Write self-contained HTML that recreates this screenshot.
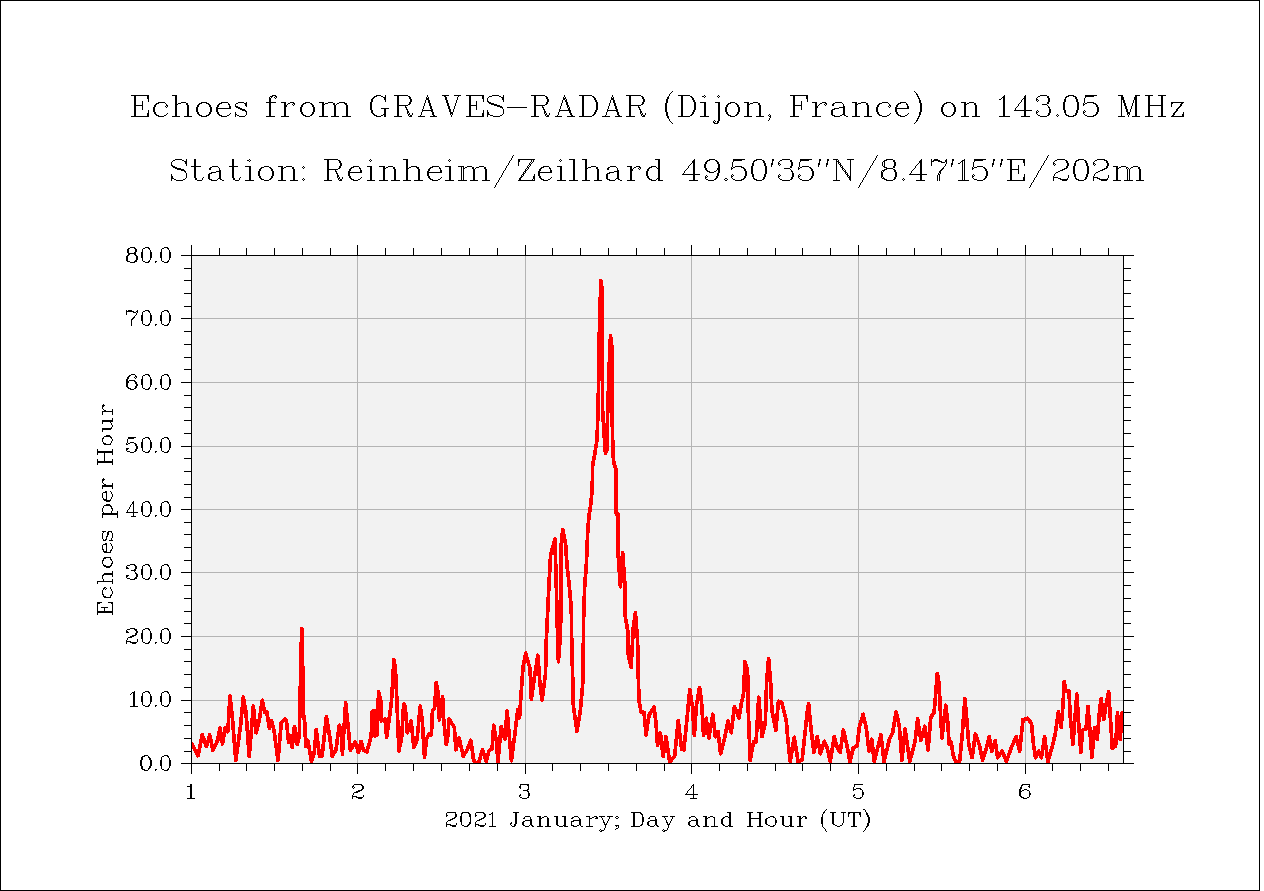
<!DOCTYPE html>
<html><head><meta charset="utf-8"><style>html,body{margin:0;padding:0;background:#fff;width:1264px;height:891px;overflow:hidden}svg{display:block}</style></head>
<body><svg width="1264" height="891" viewBox="0 0 1264 891" shape-rendering="crispEdges"><rect x="0" y="0" width="1264" height="891" fill="#fff"/><path d="M0 0h1260v891h-1260zM1 1v889h1258v-889z" fill="#000" fill-rule="evenodd"/><rect x="192" y="256" width="931" height="507" fill="#f2f2f2"/><path d="M357 256h1V763h-1zM525 256h1V763h-1zM691 256h1V763h-1zM858 256h1V763h-1zM1025 256h1V763h-1zM192 700H1123v1H192zM192 636H1123v1H192zM192 572H1123v1H192zM192 509H1123v1H192zM192 446H1123v1H192zM192 382H1123v1H192zM192 318H1123v1H192z" fill="#b4b4b4"/><path d="M191 255H1124V764H191z M192 256V763H1123V256zM191 764h1v10h-1z M191 245h1v10h-1zM219 764h1v7h-1z M219 248h1v7h-1zM246 764h1v7h-1z M246 248h1v7h-1zM274 764h1v7h-1z M274 248h1v7h-1zM302 764h1v7h-1z M302 248h1v7h-1zM330 764h1v7h-1z M330 248h1v7h-1zM357 764h1v10h-1z M357 245h1v10h-1zM385 764h1v7h-1z M385 248h1v7h-1zM413 764h1v7h-1z M413 248h1v7h-1zM441 764h1v7h-1z M441 248h1v7h-1zM469 764h1v7h-1z M469 248h1v7h-1zM497 764h1v7h-1z M497 248h1v7h-1zM525 764h1v10h-1z M525 245h1v10h-1zM552 764h1v7h-1z M552 248h1v7h-1zM580 764h1v7h-1z M580 248h1v7h-1zM608 764h1v7h-1z M608 248h1v7h-1zM636 764h1v7h-1z M636 248h1v7h-1zM664 764h1v7h-1z M664 248h1v7h-1zM691 764h1v10h-1z M691 245h1v10h-1zM719 764h1v7h-1z M719 248h1v7h-1zM747 764h1v7h-1z M747 248h1v7h-1zM775 764h1v7h-1z M775 248h1v7h-1zM802 764h1v7h-1z M802 248h1v7h-1zM830 764h1v7h-1z M830 248h1v7h-1zM858 764h1v10h-1z M858 245h1v10h-1zM886 764h1v7h-1z M886 248h1v7h-1zM914 764h1v7h-1z M914 248h1v7h-1zM941 764h1v7h-1z M941 248h1v7h-1zM969 764h1v7h-1z M969 248h1v7h-1zM997 764h1v7h-1z M997 248h1v7h-1zM1025 764h1v10h-1z M1025 245h1v10h-1zM1052 764h1v7h-1z M1052 248h1v7h-1zM1080 764h1v7h-1z M1080 248h1v7h-1zM1108 764h1v7h-1z M1108 248h1v7h-1zM181 255h10v1h-10z M1124 255h10v1h-10zM184 268h7v1h-7z M1124 268h7v1h-7zM184 280h7v1h-7z M1124 280h7v1h-7zM184 293h7v1h-7z M1124 293h7v1h-7zM184 306h7v1h-7z M1124 306h7v1h-7zM181 318h10v1h-10z M1124 318h10v1h-10zM184 331h7v1h-7z M1124 331h7v1h-7zM184 344h7v1h-7z M1124 344h7v1h-7zM184 357h7v1h-7z M1124 357h7v1h-7zM184 369h7v1h-7z M1124 369h7v1h-7zM181 382h10v1h-10z M1124 382h10v1h-10zM184 395h7v1h-7z M1124 395h7v1h-7zM184 407h7v1h-7z M1124 407h7v1h-7zM184 420h7v1h-7z M1124 420h7v1h-7zM184 433h7v1h-7z M1124 433h7v1h-7zM181 446h10v1h-10z M1124 446h10v1h-10zM184 458h7v1h-7z M1124 458h7v1h-7zM184 471h7v1h-7z M1124 471h7v1h-7zM184 484h7v1h-7z M1124 484h7v1h-7zM184 497h7v1h-7z M1124 497h7v1h-7zM181 509h10v1h-10z M1124 509h10v1h-10zM184 522h7v1h-7z M1124 522h7v1h-7zM184 534h7v1h-7z M1124 534h7v1h-7zM184 547h7v1h-7z M1124 547h7v1h-7zM184 560h7v1h-7z M1124 560h7v1h-7zM181 572h10v1h-10z M1124 572h10v1h-10zM184 585h7v1h-7z M1124 585h7v1h-7zM184 598h7v1h-7z M1124 598h7v1h-7zM184 611h7v1h-7z M1124 611h7v1h-7zM184 623h7v1h-7z M1124 623h7v1h-7zM181 636h10v1h-10z M1124 636h10v1h-10zM184 649h7v1h-7z M1124 649h7v1h-7zM184 661h7v1h-7z M1124 661h7v1h-7zM184 674h7v1h-7z M1124 674h7v1h-7zM184 687h7v1h-7z M1124 687h7v1h-7zM181 700h10v1h-10z M1124 700h10v1h-10zM184 712h7v1h-7z M1124 712h7v1h-7zM184 725h7v1h-7z M1124 725h7v1h-7zM184 738h7v1h-7z M1124 738h7v1h-7zM184 751h7v1h-7z M1124 751h7v1h-7zM181 763h10v1h-10z M1124 763h10v1h-10z" fill="#000" fill-rule="evenodd"/><path d="M672 91h1v1h-1zM914 91h1v1h-1zM671 92h1v1h-1zM915 92h1v1h-1zM670 93h1v1h-1zM916 93h1v1h-1zM916 94h2v1h-2zM131 95h18v1h-18zM172 95h5v1h-5zM272 95h4v1h-4zM376 95h5v1h-5zM394 95h14v1h-14zM442 95h7v1h-7zM454 95h7v1h-7zM466 95h18v1h-18zM492 95h7v1h-7zM531 95h14v1h-14zM579 95h13v1h-13zM626 95h15v1h-15zM669 94h1v2h-1zM678 95h12v1h-12zM704 95h1v1h-1zM718 95h1v1h-1zM790 95h18v1h-18zM917 95h1v1h-1zM1004 95h1v1h-1zM1025 95h1v1h-1zM1040 95h7v1h-7zM1068 95h6v1h-6zM1085 95h12v1h-12zM1118 95h5v1h-5zM1135 95h5v1h-5zM1145 95h8v1h-8zM1158 95h8v1h-8zM270 96h3v1h-3zM275 96h2v1h-2zM374 96h3v1h-3zM381 96h2v1h-2zM385 95h1v2h-1zM408 96h2v1h-2zM427 95h1v2h-1zM444 96h2v1h-2zM458 96h1v1h-1zM489 96h3v1h-3zM499 96h2v1h-2zM503 95h1v2h-1zM545 96h2v1h-2zM564 95h1v2h-1zM592 96h2v1h-2zM612 95h1v2h-1zM641 96h2v1h-2zM668 96h1v1h-1zM690 96h2v1h-2zM702 96h2v1h-2zM705 96h1v1h-1zM717 96h1v1h-1zM719 96h1v1h-1zM917 96h2v1h-2zM1003 96h2v1h-2zM1038 96h2v1h-2zM1066 96h3v1h-3zM1073 96h3v1h-3zM1085 96h9v1h-9zM1121 96h2v1h-2zM1135 96h2v1h-2zM269 97h1v1h-1zM271 97h1v1h-1zM274 97h1v1h-1zM276 97h1v1h-1zM373 97h2v1h-2zM383 97h3v1h-3zM426 97h1v1h-1zM428 97h1v1h-1zM488 97h1v1h-1zM501 97h3v1h-3zM563 97h1v1h-1zM565 97h1v1h-1zM593 97h2v1h-2zM611 97h1v1h-1zM613 97h1v1h-1zM691 97h2v1h-2zM704 97h1v1h-1zM718 97h1v1h-1zM918 97h1v1h-1zM1002 97h3v1h-3zM1024 96h2v2h-2zM1037 97h1v1h-1zM1047 96h2v2h-2zM1065 97h2v1h-2zM1085 97h1v1h-1zM147 96h2v3h-2zM275 98h1v1h-1zM372 98h2v1h-2zM409 97h2v2h-2zM482 96h2v3h-2zM546 97h2v2h-2zM563 98h3v1h-3zM642 97h2v2h-2zM667 97h2v2h-2zM806 96h2v3h-2zM918 98h2v1h-2zM1001 98h1v1h-1zM1023 98h3v1h-3zM1036 98h1v1h-1zM1065 98h1v1h-1zM1075 97h2v2h-2zM384 98h2v2h-2zM426 98h3v2h-3zM445 97h2v3h-2zM457 97h1v3h-1zM502 98h2v2h-2zM563 99h2v1h-2zM566 99h1v1h-1zM594 98h2v2h-2zM611 98h3v2h-3zM692 98h2v2h-2zM919 99h1v1h-1zM999 99h2v1h-2zM1022 99h1v1h-1zM1036 99h2v1h-2zM1121 97h3v3h-3zM1134 97h3v3h-3zM487 98h1v3h-1zM1036 100h1v1h-1zM1038 100h1v1h-1zM148 99h1v3h-1zM269 98h2v4h-2zM371 99h2v3h-2zM385 100h1v2h-1zM410 99h2v3h-2zM483 99h1v3h-1zM487 101h2v1h-2zM503 100h1v2h-1zM547 99h2v3h-2zM565 100h2v2h-2zM595 100h2v2h-2zM643 99h2v3h-2zM693 100h2v2h-2zM807 99h1v3h-1zM1021 100h1v2h-1zM1037 101h1v1h-1zM1048 98h2v4h-2zM1064 99h2v3h-2zM1076 99h2v3h-2zM158 102h7v1h-7zM181 102h5v1h-5zM201 102h6v1h-6zM221 102h7v1h-7zM238 102h6v1h-6zM246 102h1v1h-1zM266 102h10v1h-10zM281 102h5v1h-5zM290 102h4v1h-4zM305 102h5v1h-5zM319 102h5v1h-5zM328 102h5v1h-5zM339 102h6v1h-6zM425 100h1v3h-1zM428 100h2v3h-2zM446 100h2v3h-2zM456 100h1v3h-1zM488 102h3v1h-3zM562 100h1v3h-1zM610 100h1v3h-1zM613 100h2v3h-2zM666 99h2v4h-2zM700 102h6v1h-6zM715 102h5v1h-5zM730 102h5v1h-5zM744 102h5v1h-5zM753 102h5v1h-5zM812 102h5v1h-5zM822 102h4v1h-4zM835 102h7v1h-7zM852 102h5v1h-5zM861 102h5v1h-5zM882 102h6v1h-6zM900 102h6v1h-6zM919 100h2v3h-2zM946 102h5v1h-5zM961 102h5v1h-5zM969 102h5v1h-5zM1020 102h1v1h-1zM1084 98h1v5h-1zM1087 102h7v1h-7zM1123 100h2v3h-2zM1133 100h1v3h-1zM1171 102h13v1h-13zM156 103h3v1h-3zM165 103h1v1h-1zM175 96h2v8h-2zM178 103h3v1h-3zM199 103h3v1h-3zM206 103h3v1h-3zM219 103h3v1h-3zM228 103h1v1h-1zM236 103h2v1h-2zM244 103h3v1h-3zM288 103h2v1h-2zM293 103h2v1h-2zM303 103h3v1h-3zM310 103h2v1h-2zM322 103h2v1h-2zM325 103h3v1h-3zM337 103h2v1h-2zM344 103h3v1h-3zM409 102h2v2h-2zM489 103h5v1h-5zM546 102h2v2h-2zM642 102h2v2h-2zM728 103h3v1h-3zM735 103h2v1h-2zM747 103h2v1h-2zM750 103h3v1h-3zM820 103h2v1h-2zM825 103h2v1h-2zM833 103h2v1h-2zM842 103h1v1h-1zM855 103h2v1h-2zM858 103h3v1h-3zM879 103h3v1h-3zM888 103h1v1h-1zM898 103h3v1h-3zM906 103h1v1h-1zM944 103h3v1h-3zM951 103h2v1h-2zM964 103h2v1h-2zM967 103h2v1h-2zM1019 103h1v1h-1zM1047 102h2v2h-2zM1083 103h1v1h-1zM1085 103h2v1h-2zM1093 103h3v1h-3zM1171 103h2v1h-2zM1181 103h2v1h-2zM134 96h2v9h-2zM142 101h1v4h-1zM155 104h2v1h-2zM166 104h1v1h-1zM175 104h3v1h-3zM186 103h2v2h-2zM198 104h2v1h-2zM208 104h2v1h-2zM218 104h2v1h-2zM228 104h2v1h-2zM284 103h2v2h-2zM287 104h1v1h-1zM292 104h1v1h-1zM294 104h1v1h-1zM302 104h2v1h-2zM311 104h2v1h-2zM322 104h3v1h-3zM333 103h2v2h-2zM336 104h1v1h-1zM345 104h2v1h-2zM397 96h2v9h-2zM408 104h2v1h-2zM469 96h2v9h-2zM476 101h1v4h-1zM491 104h6v1h-6zM534 96h2v9h-2zM545 104h2v1h-2zM566 102h2v3h-2zM629 96h2v9h-2zM641 104h2v1h-2zM727 104h2v1h-2zM736 104h2v1h-2zM747 104h3v1h-3zM758 103h2v2h-2zM793 96h2v9h-2zM801 101h1v4h-1zM819 104h1v1h-1zM824 104h1v1h-1zM826 104h1v1h-1zM855 104h3v1h-3zM866 103h2v2h-2zM878 104h2v1h-2zM889 104h1v1h-1zM897 104h2v1h-2zM906 104h2v1h-2zM943 104h2v1h-2zM952 104h2v1h-2zM964 104h3v1h-3zM974 103h2v2h-2zM1042 104h5v1h-5zM1083 104h2v1h-2zM1095 104h2v1h-2zM1148 96h2v9h-2zM1161 96h2v9h-2zM134 105h9v1h-9zM166 105h2v1h-2zM229 105h1v1h-1zM235 104h1v2h-1zM245 104h2v2h-2zM293 105h1v1h-1zM397 105h11v1h-11zM424 103h1v3h-1zM429 103h2v3h-2zM447 103h2v3h-2zM455 103h1v3h-1zM469 105h8v1h-8zM494 105h6v1h-6zM534 105h11v1h-11zM561 103h1v3h-1zM609 103h1v3h-1zM614 103h2v3h-2zM629 105h12v1h-12zM793 105h9v1h-9zM815 103h2v3h-2zM818 105h1v1h-1zM825 105h1v1h-1zM832 104h2v2h-2zM843 104h1v2h-1zM889 105h2v1h-2zM907 105h1v1h-1zM1018 104h1v2h-1zM1047 105h1v1h-1zM1083 105h1v1h-1zM1124 103h2v3h-2zM1132 103h1v3h-1zM1148 105h15v1h-15zM1180 104h2v2h-2zM154 105h2v2h-2zM165 106h1v1h-1zM167 106h1v1h-1zM197 105h2v2h-2zM209 105h2v2h-2zM217 105h2v2h-2zM235 106h3v1h-3zM246 106h1v1h-1zM284 105h3v2h-3zM301 105h2v2h-2zM312 105h2v2h-2zM405 106h1v1h-1zM497 106h5v1h-5zM542 106h1v1h-1zM567 105h2v2h-2zM638 106h1v1h-1zM726 105h2v2h-2zM737 105h2v2h-2zM843 106h2v1h-2zM877 105h2v2h-2zM888 106h1v1h-1zM890 106h1v1h-1zM896 105h2v2h-2zM942 105h2v2h-2zM953 105h2v2h-2zM1017 106h1v1h-1zM1048 106h1v1h-1zM1096 105h2v2h-2zM1171 104h1v3h-1zM1179 106h2v1h-2zM166 107h1v1h-1zM216 107h2v1h-2zM229 106h2v2h-2zM236 107h4v1h-4zM405 107h2v1h-2zM500 107h3v1h-3zM507 107h20v1h-20zM542 107h2v1h-2zM567 107h1v1h-1zM569 107h1v1h-1zM638 107h2v1h-2zM815 106h3v2h-3zM839 107h6v1h-6zM889 107h1v1h-1zM895 107h2v1h-2zM907 106h2v2h-2zM1016 107h1v1h-1zM1048 107h2v1h-2zM1178 107h2v1h-2zM216 108h15v1h-15zM238 108h4v1h-4zM381 108h8v1h-8zM406 108h1v1h-1zM423 106h1v3h-1zM430 106h2v3h-2zM448 106h2v3h-2zM454 106h1v3h-1zM502 108h1v1h-1zM543 108h1v1h-1zM560 106h1v3h-1zM608 106h1v3h-1zM615 106h2v3h-2zM639 108h1v1h-1zM834 108h5v1h-5zM895 108h14v1h-14zM1049 108h1v1h-1zM1125 106h2v3h-2zM1131 106h1v3h-1zM1177 108h2v1h-2zM142 106h1v4h-1zM240 109h5v1h-5zM370 102h2v8h-2zM406 109h2v1h-2zM422 109h1v1h-1zM431 109h2v1h-2zM476 106h1v4h-1zM543 109h2v1h-2zM559 109h1v1h-1zM568 108h2v2h-2zM596 102h2v8h-2zM607 109h1v1h-1zM616 109h2v1h-2zM639 109h2v1h-2zM694 102h2v8h-2zM801 106h1v4h-1zM832 109h3v1h-3zM1015 108h1v2h-1zM1024 99h2v11h-2zM1063 102h2v8h-2zM1077 102h2v8h-2zM242 110h4v1h-4zM407 110h1v1h-1zM422 110h11v1h-11zM544 110h1v1h-1zM559 110h12v1h-12zM607 110h11v1h-11zM640 110h1v1h-1zM1014 110h18v1h-18zM1037 110h1v1h-1zM1084 110h1v1h-1zM1176 109h2v2h-2zM153 107h2v5h-2zM196 107h2v5h-2zM210 107h2v5h-2zM216 109h2v3h-2zM245 111h2v1h-2zM300 107h2v5h-2zM313 107h2v5h-2zM422 111h1v1h-1zM431 111h2v1h-2zM449 109h2v3h-2zM453 109h1v3h-1zM487 110h1v2h-1zM559 111h1v1h-1zM595 110h2v2h-2zM607 111h1v1h-1zM616 111h2v1h-2zM665 103h2v9h-2zM693 110h2v2h-2zM725 107h2v5h-2zM738 107h2v5h-2zM876 107h2v5h-2zM895 109h2v3h-2zM920 103h2v9h-2zM941 107h2v5h-2zM954 107h2v5h-2zM1036 111h1v1h-1zM1038 111h1v1h-1zM1083 111h1v1h-1zM1085 111h1v1h-1zM1097 107h2v5h-2zM1126 109h2v3h-2zM1130 109h1v3h-1zM1175 111h2v1h-2zM148 110h1v3h-1zM371 110h2v3h-2zM407 111h2v2h-2zM483 110h1v3h-1zM544 111h2v2h-2zM569 111h2v2h-2zM640 111h2v2h-2zM1036 112h2v1h-2zM1049 109h2v4h-2zM1064 110h2v3h-2zM1076 110h2v3h-2zM1083 112h2v1h-2zM1174 112h2v1h-2zM154 112h2v2h-2zM167 113h1v1h-1zM197 112h2v2h-2zM209 112h2v2h-2zM217 112h2v2h-2zM230 113h1v1h-1zM235 112h1v2h-1zM301 112h2v2h-2zM312 112h2v2h-2zM372 113h2v1h-2zM384 109h2v5h-2zM407 113h1v1h-1zM409 113h1v1h-1zM450 112h3v2h-3zM487 112h2v2h-2zM503 109h1v5h-1zM544 113h1v1h-1zM546 113h1v1h-1zM594 112h2v2h-2zM640 113h1v1h-1zM642 113h1v1h-1zM692 112h2v2h-2zM726 112h2v2h-2zM737 112h2v2h-2zM843 108h2v6h-2zM877 112h2v2h-2zM890 113h1v1h-1zM896 112h2v2h-2zM908 113h1v1h-1zM942 112h2v2h-2zM953 112h2v2h-2zM1036 113h1v1h-1zM1065 113h1v1h-1zM1083 113h1v1h-1zM1096 112h2v2h-2zM1127 112h3v2h-3zM1183 112h1v2h-1zM155 114h2v1h-2zM166 114h1v1h-1zM198 114h2v1h-2zM208 114h2v1h-2zM218 114h2v1h-2zM229 114h1v1h-1zM235 114h2v1h-2zM246 112h1v3h-1zM302 114h2v1h-2zM311 114h2v1h-2zM373 114h2v1h-2zM383 114h3v1h-3zM408 114h2v1h-2zM412 113h1v2h-1zM421 112h1v3h-1zM432 112h2v3h-2zM450 114h1v1h-1zM452 114h1v1h-1zM487 114h3v1h-3zM502 114h1v1h-1zM545 114h2v1h-2zM549 113h1v2h-1zM558 112h1v3h-1zM570 113h2v2h-2zM593 114h2v1h-2zM606 112h1v3h-1zM617 112h2v3h-2zM641 114h2v1h-2zM645 113h1v2h-1zM691 114h2v1h-2zM727 114h2v1h-2zM736 114h2v1h-2zM769 114h1v1h-1zM831 110h2v5h-2zM842 114h3v1h-3zM878 114h2v1h-2zM889 114h1v1h-1zM897 114h2v1h-2zM907 114h1v1h-1zM919 112h2v3h-2zM943 114h2v1h-2zM952 114h2v1h-2zM1037 114h1v1h-1zM1048 113h2v2h-2zM1057 114h1v1h-1zM1065 114h2v1h-2zM1075 113h2v2h-2zM1084 114h1v1h-1zM1095 114h2v1h-2zM1127 114h1v1h-1zM1129 114h1v1h-1zM1173 113h2v2h-2zM134 106h2v10h-2zM147 113h2v3h-2zM156 115h3v1h-3zM164 115h2v1h-2zM175 105h2v11h-2zM187 105h2v11h-2zM199 115h3v1h-3zM206 115h3v1h-3zM219 115h3v1h-3zM227 115h2v1h-2zM237 115h2v1h-2zM245 115h1v1h-1zM269 103h2v13h-2zM284 107h2v9h-2zM303 115h3v1h-3zM310 115h2v1h-2zM322 105h2v11h-2zM334 105h2v11h-2zM346 105h2v11h-2zM374 115h3v1h-3zM381 115h2v1h-2zM397 106h2v10h-2zM408 115h1v1h-1zM410 115h2v1h-2zM420 115h1v1h-1zM433 115h2v1h-2zM469 106h2v10h-2zM482 113h2v3h-2zM490 115h3v1h-3zM500 115h2v1h-2zM534 106h2v10h-2zM545 115h1v1h-1zM547 115h2v1h-2zM557 115h1v1h-1zM571 115h2v1h-2zM582 96h2v20h-2zM592 115h2v1h-2zM605 115h1v1h-1zM618 115h2v1h-2zM629 106h2v10h-2zM641 115h1v1h-1zM643 115h2v1h-2zM666 112h2v4h-2zM681 96h2v20h-2zM690 115h2v1h-2zM704 103h2v13h-2zM728 115h3v1h-3zM735 115h2v1h-2zM747 105h2v11h-2zM759 105h2v11h-2zM768 115h1v1h-1zM770 115h1v1h-1zM793 106h2v10h-2zM815 108h2v8h-2zM832 115h3v1h-3zM840 115h2v1h-2zM844 115h2v1h-2zM855 105h2v11h-2zM867 105h2v11h-2zM879 115h3v1h-3zM887 115h2v1h-2zM898 115h3v1h-3zM905 115h2v1h-2zM919 115h1v1h-1zM944 115h3v1h-3zM951 115h2v1h-2zM964 105h2v11h-2zM975 105h2v11h-2zM1003 98h2v18h-2zM1024 111h2v5h-2zM1038 115h2v1h-2zM1047 115h2v1h-2zM1056 115h1v1h-1zM1058 115h1v1h-1zM1066 115h3v1h-3zM1073 115h3v1h-3zM1085 115h2v1h-2zM1093 115h3v1h-3zM1121 100h1v16h-1zM1135 100h2v16h-2zM1148 106h2v10h-2zM1161 106h2v10h-2zM1172 115h2v1h-2zM1182 114h2v2h-2zM131 116h18v1h-18zM158 116h6v1h-6zM172 116h8v1h-8zM184 116h8v1h-8zM201 116h6v1h-6zM221 116h6v1h-6zM235 115h1v2h-1zM239 116h6v1h-6zM266 116h9v1h-9zM281 116h8v1h-8zM305 116h5v1h-5zM319 116h9v1h-9zM331 116h8v1h-8zM342 116h9v1h-9zM376 116h5v1h-5zM384 115h2v2h-2zM394 116h8v1h-8zM409 116h3v1h-3zM418 116h7v1h-7zM430 116h7v1h-7zM451 115h1v2h-1zM466 116h18v1h-18zM487 115h1v2h-1zM493 116h7v1h-7zM531 116h8v1h-8zM546 116h3v1h-3zM555 116h7v1h-7zM567 116h8v1h-8zM579 116h13v1h-13zM602 116h8v1h-8zM615 116h7v1h-7zM626 116h9v1h-9zM642 116h3v1h-3zM678 116h12v1h-12zM700 116h9v1h-9zM730 116h5v1h-5zM744 116h8v1h-8zM756 116h8v1h-8zM769 116h2v1h-2zM790 116h9v1h-9zM812 116h9v1h-9zM834 116h6v1h-6zM846 116h2v1h-2zM852 116h8v1h-8zM864 116h8v1h-8zM882 116h5v1h-5zM900 116h5v1h-5zM918 116h2v1h-2zM946 116h5v1h-5zM961 116h8v1h-8zM972 116h8v1h-8zM999 116h11v1h-11zM1021 116h9v1h-9zM1040 116h7v1h-7zM1057 116h1v1h-1zM1068 116h6v1h-6zM1087 116h7v1h-7zM1118 116h7v1h-7zM1128 115h1v2h-1zM1132 116h8v1h-8zM1145 116h8v1h-8zM1158 116h8v1h-8zM1171 116h13v1h-13zM667 116h2v2h-2zM770 117h1v1h-1zM918 117h1v1h-1zM668 118h1v1h-1zM917 118h2v1h-2zM769 118h1v2h-1zM917 119h1v1h-1zM669 119h1v2h-1zM714 120h1v1h-1zM718 103h2v18h-2zM768 120h1v1h-1zM916 120h2v1h-2zM670 121h1v1h-1zM713 121h1v1h-1zM715 121h1v1h-1zM916 121h1v1h-1zM671 122h1v1h-1zM713 122h2v1h-2zM717 121h2v2h-2zM915 122h1v1h-1zM672 123h1v1h-1zM714 123h4v1h-4zM914 123h1v1h-1zM513 155h1v1h-1zM877 155h1v1h-1zM1048 155h1v1h-1zM512 156h1v2h-1zM876 156h1v2h-1zM1047 156h1v2h-1zM175 159h7v1h-7zM249 159h1v1h-1zM324 159h14v1h-14zM370 159h1v1h-1zM403 159h5v1h-5zM449 159h1v1h-1zM511 158h1v2h-1zM518 159h17v1h-17zM560 159h1v1h-1zM569 159h6v1h-6zM582 159h5v1h-5zM655 159h5v1h-5zM694 159h1v1h-1zM709 159h6v1h-6zM733 159h12v1h-12zM756 159h6v1h-6zM782 159h8v1h-8zM800 159h12v1h-12zM833 159h5v1h-5zM847 159h7v1h-7zM875 158h1v2h-1zM886 159h7v1h-7zM921 159h1v1h-1zM934 159h4v1h-4zM946 159h1v1h-1zM964 159h1v1h-1zM974 159h12v1h-12zM1007 159h18v1h-18zM1046 158h1v2h-1zM1057 159h8v1h-8zM1078 159h6v1h-6zM1097 159h8v1h-8zM173 160h2v1h-2zM182 160h2v1h-2zM186 159h1v2h-1zM247 160h2v1h-2zM250 160h1v1h-1zM338 160h2v1h-2zM369 160h1v1h-1zM371 160h1v1h-1zM448 160h1v1h-1zM450 160h1v1h-1zM510 160h1v1h-1zM559 160h1v1h-1zM561 160h1v1h-1zM693 160h2v1h-2zM707 160h3v1h-3zM715 160h2v1h-2zM733 160h9v1h-9zM754 160h3v1h-3zM762 160h2v1h-2zM772 159h2v2h-2zM780 160h2v1h-2zM800 160h9v1h-9zM819 159h2v2h-2zM827 159h2v2h-2zM836 160h1v1h-1zM838 160h1v1h-1zM874 160h1v1h-1zM884 160h3v1h-3zM920 160h2v1h-2zM931 159h1v2h-1zM933 160h7v1h-7zM952 159h2v2h-2zM962 160h3v1h-3zM974 160h9v1h-9zM993 159h2v2h-2zM1001 159h2v2h-2zM1045 160h1v1h-1zM1055 160h2v1h-2zM1065 160h2v1h-2zM1076 160h3v1h-3zM1084 160h2v1h-2zM1095 160h2v1h-2zM1104 160h3v1h-3zM172 161h1v1h-1zM184 161h3v1h-3zM249 161h1v1h-1zM370 161h1v1h-1zM449 161h1v1h-1zM518 160h2v2h-2zM531 160h1v2h-1zM533 160h1v2h-1zM560 161h1v1h-1zM706 161h2v1h-2zM716 161h2v1h-2zM733 161h1v1h-1zM753 161h2v1h-2zM779 161h1v1h-1zM790 160h2v2h-2zM800 161h1v1h-1zM836 161h3v1h-3zM883 161h2v1h-2zM893 160h2v2h-2zM931 161h3v1h-3zM938 161h4v1h-4zM945 160h2v2h-2zM961 161h2v1h-2zM974 161h1v1h-1zM1054 161h1v1h-1zM1075 161h2v1h-2zM1094 161h1v1h-1zM339 161h2v2h-2zM509 161h1v2h-1zM530 162h1v1h-1zM532 162h1v1h-1zM692 161h3v2h-3zM753 162h1v1h-1zM763 161h2v2h-2zM772 161h1v2h-1zM778 162h1v1h-1zM819 161h1v2h-1zM827 161h1v2h-1zM838 162h2v1h-2zM873 161h1v2h-1zM919 161h3v2h-3zM941 162h4v1h-4zM952 161h1v2h-1zM960 162h1v1h-1zM993 161h1v2h-1zM1001 161h1v2h-1zM1023 160h2v3h-2zM1044 161h1v2h-1zM1053 162h1v1h-1zM1066 161h2v2h-2zM1075 162h1v1h-1zM1085 161h2v2h-2zM1093 162h1v1h-1zM1106 161h2v2h-2zM185 162h2v2h-2zM529 163h1v1h-1zM531 163h1v1h-1zM691 163h1v1h-1zM705 162h2v2h-2zM717 162h2v2h-2zM778 163h2v1h-2zM838 163h1v1h-1zM840 163h1v1h-1zM918 163h1v1h-1zM946 162h1v2h-1zM958 163h2v1h-2zM1053 163h2v1h-2zM1093 163h2v1h-2zM171 162h1v3h-1zM508 163h1v2h-1zM529 164h2v1h-2zM690 164h1v1h-1zM771 163h2v2h-2zM778 164h1v1h-1zM780 164h1v1h-1zM818 163h2v2h-2zM826 163h2v2h-2zM839 164h2v1h-2zM872 163h1v2h-1zM917 164h1v1h-1zM951 163h2v2h-2zM992 163h2v2h-2zM1000 163h2v2h-2zM1043 163h1v2h-1zM1053 164h1v1h-1zM1055 164h1v1h-1zM1093 164h1v1h-1zM1095 164h1v1h-1zM171 165h2v1h-2zM186 164h1v2h-1zM194 159h2v7h-2zM232 159h2v7h-2zM340 163h2v3h-2zM507 165h1v1h-1zM518 162h1v4h-1zM528 165h1v1h-1zM530 165h1v1h-1zM689 165h1v1h-1zM752 163h2v3h-2zM764 163h2v3h-2zM779 165h1v1h-1zM791 162h2v4h-2zM840 165h2v1h-2zM871 165h1v1h-1zM882 162h1v4h-1zM884 162h1v4h-1zM894 162h2v4h-2zM916 165h1v1h-1zM931 162h1v4h-1zM945 164h1v2h-1zM1024 163h1v3h-1zM1042 165h1v1h-1zM1054 165h1v1h-1zM1067 163h2v3h-2zM1074 163h2v3h-2zM1086 163h2v3h-2zM1094 165h1v1h-1zM1107 163h2v3h-2zM172 166h3v1h-3zM191 166h10v1h-10zM212 166h6v1h-6zM229 166h9v1h-9zM245 166h6v1h-6zM264 166h5v1h-5zM278 166h5v1h-5zM286 166h6v1h-6zM303 166h1v1h-1zM353 166h6v1h-6zM367 166h5v1h-5zM379 166h6v1h-6zM388 166h5v1h-5zM411 166h6v1h-6zM432 166h7v1h-7zM445 166h6v1h-6zM458 166h6v1h-6zM467 166h5v1h-5zM479 166h5v1h-5zM527 166h1v1h-1zM529 166h1v1h-1zM543 166h6v1h-6zM557 166h5v1h-5zM591 166h5v1h-5zM610 166h6v1h-6zM627 166h5v1h-5zM636 166h4v1h-4zM651 166h5v1h-5zM732 162h1v5h-1zM735 166h7v1h-7zM771 165h1v2h-1zM799 162h1v5h-1zM802 166h7v1h-7zM818 165h1v2h-1zM826 165h1v2h-1zM840 166h1v1h-1zM842 166h1v1h-1zM883 166h2v1h-2zM944 166h1v1h-1zM951 165h1v2h-1zM973 162h1v5h-1zM977 166h6v1h-6zM992 165h1v2h-1zM1000 165h1v2h-1zM1113 166h5v1h-5zM1121 166h5v1h-5zM1133 166h5v1h-5zM173 167h4v1h-4zM210 167h2v1h-2zM218 167h1v1h-1zM261 167h3v1h-3zM269 167h2v1h-2zM281 167h2v1h-2zM284 167h2v1h-2zM302 167h1v1h-1zM304 167h1v1h-1zM339 166h2v2h-2zM351 167h3v1h-3zM359 167h1v1h-1zM383 167h2v1h-2zM386 167h2v1h-2zM406 160h2v8h-2zM409 167h2v1h-2zM416 167h3v1h-3zM430 167h3v1h-3zM439 167h1v1h-1zM463 167h1v1h-1zM465 167h2v1h-2zM476 167h3v1h-3zM506 166h1v2h-1zM527 167h2v1h-2zM541 167h3v1h-3zM549 167h1v1h-1zM585 160h2v8h-2zM588 167h3v1h-3zM608 167h2v1h-2zM616 167h1v1h-1zM634 167h2v1h-2zM639 167h2v1h-2zM649 167h3v1h-3zM656 167h1v1h-1zM658 160h2v8h-2zM688 166h1v2h-1zM704 164h2v4h-2zM718 164h2v4h-2zM731 167h1v1h-1zM733 167h2v1h-2zM741 167h3v1h-3zM790 166h2v2h-2zM798 167h1v1h-1zM800 167h2v1h-2zM809 167h2v1h-2zM841 167h2v1h-2zM870 166h1v2h-1zM884 167h3v1h-3zM893 166h2v2h-2zM915 166h1v2h-1zM943 167h1v1h-1zM972 167h1v1h-1zM974 167h3v1h-3zM983 167h2v1h-2zM1041 166h1v2h-1zM1066 166h2v2h-2zM1106 166h2v2h-2zM1116 167h2v1h-2zM1119 167h2v1h-2zM1126 167h2v1h-2zM1131 167h2v1h-2zM175 168h6v1h-6zM260 168h2v1h-2zM270 168h2v1h-2zM281 168h3v1h-3zM292 167h2v2h-2zM303 168h1v1h-1zM327 160h2v9h-2zM338 168h2v1h-2zM350 168h2v1h-2zM359 168h2v1h-2zM383 168h3v1h-3zM393 167h2v2h-2zM406 168h3v1h-3zM417 168h2v1h-2zM429 168h2v1h-2zM439 168h2v1h-2zM463 168h2v1h-2zM472 167h2v2h-2zM475 168h1v1h-1zM484 167h2v2h-2zM526 168h1v1h-1zM528 168h1v1h-1zM540 168h2v1h-2zM549 168h2v1h-2zM585 168h3v1h-3zM596 167h2v2h-2zM630 167h2v2h-2zM633 168h1v1h-1zM638 168h1v1h-1zM640 168h1v1h-1zM648 168h2v1h-2zM657 168h3v1h-3zM687 168h1v1h-1zM731 168h2v1h-2zM743 168h2v1h-2zM784 168h6v1h-6zM798 168h2v1h-2zM810 168h2v1h-2zM842 168h2v1h-2zM886 168h7v1h-7zM914 168h1v1h-1zM942 168h2v1h-2zM972 168h2v1h-2zM984 168h2v1h-2zM1010 160h2v9h-2zM1018 165h1v4h-1zM1064 168h3v1h-3zM1104 168h3v1h-3zM1116 168h3v1h-3zM1126 168h1v1h-1zM1128 168h1v1h-1zM1130 168h1v1h-1zM1138 167h2v2h-2zM177 169h7v1h-7zM209 168h2v2h-2zM219 168h1v2h-1zM327 169h11v1h-11zM360 169h1v1h-1zM440 169h1v1h-1zM505 168h1v2h-1zM525 169h1v1h-1zM527 169h1v1h-1zM550 169h1v1h-1zM607 168h2v2h-2zM617 168h1v2h-1zM639 169h1v1h-1zM686 169h1v1h-1zM705 168h2v2h-2zM717 168h3v2h-3zM731 169h1v1h-1zM790 169h1v1h-1zM798 169h1v1h-1zM842 169h1v1h-1zM844 169h1v1h-1zM869 168h1v2h-1zM884 169h3v1h-3zM893 169h2v1h-2zM913 169h1v1h-1zM941 169h2v1h-2zM972 169h1v1h-1zM1010 169h9v1h-9zM1040 168h1v2h-1zM1062 169h3v1h-3zM1102 169h3v1h-3zM181 170h4v1h-4zM219 170h2v1h-2zM259 169h2v2h-2zM271 169h2v2h-2zM335 170h1v1h-1zM349 169h2v2h-2zM428 169h2v2h-2zM504 170h1v1h-1zM525 170h2v1h-2zM539 169h2v2h-2zM617 170h2v1h-2zM630 169h3v2h-3zM647 169h2v2h-2zM685 170h1v1h-1zM706 170h2v1h-2zM716 170h1v1h-1zM744 169h2v2h-2zM791 170h1v1h-1zM811 169h2v2h-2zM843 170h1v1h-1zM845 170h1v1h-1zM868 170h1v1h-1zM882 170h3v1h-3zM912 170h1v1h-1zM940 170h2v1h-2zM985 169h2v2h-2zM1039 170h1v1h-1zM1060 170h3v1h-3zM1100 170h3v1h-3zM184 171h2v1h-2zM216 171h5v1h-5zM335 171h2v1h-2zM348 171h2v1h-2zM360 170h2v2h-2zM427 171h2v1h-2zM440 170h2v2h-2zM524 171h2v1h-2zM538 171h2v1h-2zM550 170h2v2h-2zM614 171h5v1h-5zM707 171h3v1h-3zM714 171h2v1h-2zM791 171h2v1h-2zM844 171h2v1h-2zM881 171h1v1h-1zM883 171h1v1h-1zM894 170h2v2h-2zM1058 171h2v1h-2zM1098 171h2v1h-2zM185 172h1v1h-1zM211 172h5v1h-5zM336 172h1v1h-1zM348 172h14v1h-14zM427 172h15v1h-15zM503 171h1v2h-1zM523 172h1v1h-1zM525 172h1v1h-1zM538 172h14v1h-14zM609 172h5v1h-5zM684 171h1v2h-1zM709 172h5v1h-5zM718 170h2v3h-2zM792 172h1v1h-1zM845 172h2v1h-2zM867 171h1v2h-1zM911 171h1v2h-1zM939 171h2v2h-2zM1038 171h1v2h-1zM1056 172h2v1h-2zM1096 172h2v1h-2zM209 173h3v1h-3zM336 173h2v1h-2zM523 173h2v1h-2zM607 173h3v1h-3zM683 173h1v1h-1zM693 163h2v11h-2zM751 166h2v8h-2zM765 166h2v8h-2zM845 173h1v1h-1zM847 173h1v1h-1zM910 173h1v1h-1zM920 163h2v11h-2zM938 173h1v1h-1zM940 173h1v1h-1zM1018 170h1v4h-1zM1055 173h1v1h-1zM1073 166h2v8h-2zM1087 166h2v8h-2zM1095 173h1v1h-1zM337 174h1v1h-1zM502 173h1v2h-1zM522 174h2v1h-2zM682 174h18v1h-18zM732 174h1v1h-1zM779 174h1v1h-1zM799 174h1v1h-1zM846 174h2v1h-2zM866 173h1v2h-1zM909 174h18v1h-18zM938 174h2v1h-2zM973 174h1v1h-1zM1037 173h1v2h-1zM171 174h1v2h-1zM258 171h2v5h-2zM272 171h2v5h-2zM348 173h2v3h-2zM427 173h2v3h-2zM521 175h1v1h-1zM523 175h1v1h-1zM534 174h1v2h-1zM538 173h2v3h-2zM646 171h2v5h-2zM706 175h1v1h-1zM717 173h2v3h-2zM731 175h1v1h-1zM733 175h1v1h-1zM745 171h2v5h-2zM778 175h1v1h-1zM780 175h1v1h-1zM798 175h1v1h-1zM800 175h1v1h-1zM812 171h2v5h-2zM847 175h2v1h-2zM850 160h1v16h-1zM972 175h1v1h-1zM974 175h1v1h-1zM986 171h2v5h-2zM1054 174h1v2h-1zM1094 174h1v2h-1zM337 175h2v2h-2zM501 175h1v2h-1zM521 176h2v1h-2zM705 176h1v1h-1zM707 176h1v1h-1zM731 176h2v1h-2zM752 174h2v3h-2zM764 174h2v3h-2zM778 176h2v1h-2zM792 173h2v4h-2zM798 176h2v1h-2zM847 176h1v1h-1zM849 176h2v1h-2zM865 175h1v2h-1zM881 172h2v5h-2zM895 172h2v5h-2zM972 176h2v1h-2zM1024 174h1v3h-1zM1036 175h1v2h-1zM1053 176h1v1h-1zM1074 174h2v3h-2zM1086 174h2v3h-2zM1093 176h1v1h-1zM171 176h2v2h-2zM186 173h1v5h-1zM194 167h2v11h-2zM203 177h1v1h-1zM219 172h2v6h-2zM232 167h2v11h-2zM240 177h1v1h-1zM259 176h2v2h-2zM271 176h2v2h-2zM337 177h1v1h-1zM339 177h1v1h-1zM349 176h2v2h-2zM361 177h1v1h-1zM428 176h2v2h-2zM441 177h1v1h-1zM500 177h1v1h-1zM520 177h2v1h-2zM539 176h2v2h-2zM551 177h1v1h-1zM617 172h2v6h-2zM647 176h2v2h-2zM658 169h2v9h-2zM705 177h2v1h-2zM716 176h2v2h-2zM731 177h1v1h-1zM744 176h2v2h-2zM753 177h1v1h-1zM778 177h1v1h-1zM798 177h1v1h-1zM811 176h2v2h-2zM848 177h3v1h-3zM864 177h1v1h-1zM881 177h1v1h-1zM883 177h1v1h-1zM972 177h1v1h-1zM985 176h2v2h-2zM1035 177h1v1h-1zM1053 177h5v1h-5zM1068 175h1v3h-1zM1075 177h1v1h-1zM1093 177h5v1h-5zM1108 175h1v3h-1zM171 178h3v1h-3zM185 178h1v1h-1zM208 174h2v5h-2zM218 178h3v1h-3zM260 178h2v1h-2zM270 178h2v1h-2zM303 178h1v1h-1zM338 178h2v1h-2zM342 177h1v2h-1zM350 178h2v1h-2zM360 178h1v1h-1zM429 178h2v1h-2zM440 178h1v1h-1zM533 176h2v3h-2zM540 178h2v1h-2zM550 178h1v1h-1zM606 174h2v5h-2zM616 178h3v1h-3zM648 178h2v1h-2zM657 178h3v1h-3zM705 178h1v1h-1zM715 178h2v1h-2zM725 178h2v1h-2zM732 178h1v1h-1zM743 178h2v1h-2zM753 178h2v1h-2zM763 177h2v2h-2zM779 178h1v1h-1zM791 177h2v2h-2zM799 178h1v1h-1zM810 178h2v1h-2zM882 178h3v1h-3zM894 177h2v2h-2zM903 178h1v1h-1zM973 178h1v1h-1zM984 178h2v1h-2zM1058 178h3v1h-3zM1067 178h1v1h-1zM1075 178h2v1h-2zM1085 177h2v2h-2zM1097 178h3v1h-3zM1107 178h1v1h-1zM174 179h2v1h-2zM183 179h2v1h-2zM195 178h2v2h-2zM202 178h1v2h-1zM209 179h3v1h-3zM217 179h1v1h-1zM220 179h2v1h-2zM233 178h2v2h-2zM239 178h1v2h-1zM249 167h2v13h-2zM261 179h3v1h-3zM269 179h2v1h-2zM281 169h2v11h-2zM293 169h2v11h-2zM302 179h1v1h-1zM304 179h1v1h-1zM327 170h2v10h-2zM338 179h1v1h-1zM340 179h2v1h-2zM351 179h3v1h-3zM358 179h2v1h-2zM370 167h2v13h-2zM383 169h2v11h-2zM394 169h2v11h-2zM406 169h2v11h-2zM418 169h2v11h-2zM430 179h3v1h-3zM438 179h2v1h-2zM449 167h2v13h-2zM461 167h1v13h-1zM463 169h1v11h-1zM473 169h2v11h-2zM485 169h2v11h-2zM499 178h1v2h-1zM519 178h2v2h-2zM532 179h1v1h-1zM534 179h1v1h-1zM541 179h3v1h-3zM548 179h2v1h-2zM560 167h2v13h-2zM573 160h2v20h-2zM585 169h2v11h-2zM597 169h2v11h-2zM607 179h3v1h-3zM615 179h1v1h-1zM618 179h2v1h-2zM630 171h2v9h-2zM649 179h3v1h-3zM656 179h1v1h-1zM658 179h2v1h-2zM693 175h2v5h-2zM706 179h2v1h-2zM714 179h2v1h-2zM724 179h1v1h-1zM727 179h1v1h-1zM733 179h2v1h-2zM741 179h3v1h-3zM754 179h3v1h-3zM762 179h2v1h-2zM780 179h2v1h-2zM790 179h2v1h-2zM800 179h2v1h-2zM809 179h2v1h-2zM836 162h1v18h-1zM849 178h2v2h-2zM863 178h1v2h-1zM884 179h3v1h-3zM893 179h2v1h-2zM902 179h1v1h-1zM904 179h1v1h-1zM920 175h2v5h-2zM962 162h1v18h-1zM964 161h1v19h-1zM974 179h3v1h-3zM983 179h2v1h-2zM1010 170h2v10h-2zM1023 177h2v3h-2zM1034 178h1v2h-1zM1060 179h8v1h-8zM1076 179h3v1h-3zM1084 179h2v1h-2zM1099 179h9v1h-9zM1116 169h2v11h-2zM1127 169h1v11h-1zM1129 169h1v11h-1zM1139 169h2v11h-2zM171 179h1v2h-1zM176 180h7v1h-7zM197 180h5v1h-5zM211 180h6v1h-6zM222 180h2v1h-2zM235 180h4v1h-4zM245 180h9v1h-9zM264 180h5v1h-5zM278 180h8v1h-8zM290 180h8v1h-8zM303 180h1v1h-1zM324 180h8v1h-8zM339 180h3v1h-3zM353 180h5v1h-5zM367 180h8v1h-8zM379 180h9v1h-9zM391 180h9v1h-9zM403 180h8v1h-8zM414 180h9v1h-9zM432 180h6v1h-6zM445 180h9v1h-9zM458 180h9v1h-9zM470 180h8v1h-8zM482 180h8v1h-8zM518 180h17v1h-17zM543 180h5v1h-5zM557 180h9v1h-9zM569 180h9v1h-9zM582 180h8v1h-8zM594 180h8v1h-8zM609 180h6v1h-6zM620 180h2v1h-2zM627 180h8v1h-8zM651 180h5v1h-5zM658 180h5v1h-5zM689 180h9v1h-9zM708 180h6v1h-6zM725 180h2v1h-2zM735 180h7v1h-7zM756 180h6v1h-6zM782 180h8v1h-8zM802 180h7v1h-7zM833 180h7v1h-7zM850 180h1v1h-1zM886 180h7v1h-7zM903 180h1v1h-1zM916 180h9v1h-9zM937 175h1v6h-1zM939 175h1v6h-1zM958 180h11v1h-11zM977 180h6v1h-6zM1007 180h18v1h-18zM1053 178h1v3h-1zM1062 180h5v1h-5zM1078 180h6v1h-6zM1093 178h1v3h-1zM1101 180h6v1h-6zM1113 180h8v1h-8zM1124 180h9v1h-9zM1136 180h8v1h-8zM498 180h1v2h-1zM862 180h1v2h-1zM1033 180h1v2h-1zM497 182h1v1h-1zM861 182h1v1h-1zM1032 182h1v1h-1zM496 183h1v2h-1zM860 183h1v2h-1zM1031 183h1v2h-1zM495 185h1v2h-1zM859 185h1v2h-1zM1030 185h1v2h-1zM494 187h1v1h-1zM858 187h1v1h-1zM1029 187h1v1h-1zM130 247h5v1h-5zM145 247h4v1h-4zM164 247h4v1h-4zM128 248h2v1h-2zM134 248h2v1h-2zM143 248h2v1h-2zM148 248h2v1h-2zM162 248h2v1h-2zM167 248h2v1h-2zM149 249h1v1h-1zM168 249h1v1h-1zM135 249h2v3h-2zM142 249h1v3h-1zM150 250h1v2h-1zM161 249h1v3h-1zM169 250h1v2h-1zM127 249h2v4h-2zM134 252h2v1h-2zM128 253h8v1h-8zM128 254h2v1h-2zM134 254h2v1h-2zM127 255h2v1h-2zM135 255h2v1h-2zM141 252h2v6h-2zM150 252h2v6h-2zM160 252h2v6h-2zM169 252h2v6h-2zM136 256h2v4h-2zM150 258h1v2h-1zM169 258h1v2h-1zM126 256h2v5h-2zM135 260h2v1h-2zM142 258h1v3h-1zM149 260h1v1h-1zM161 258h1v3h-1zM168 260h1v1h-1zM127 261h3v1h-3zM134 261h3v1h-3zM143 261h2v1h-2zM148 261h2v1h-2zM155 261h2v1h-2zM162 261h2v1h-2zM167 261h2v1h-2zM130 262h5v1h-5zM145 262h4v1h-4zM155 262h1v1h-1zM164 262h4v1h-4zM126 310h1v1h-1zM128 310h4v1h-4zM137 310h1v1h-1zM145 310h4v1h-4zM164 310h4v1h-4zM126 311h8v1h-8zM136 311h2v1h-2zM143 311h2v1h-2zM148 311h2v1h-2zM162 311h2v1h-2zM167 311h2v1h-2zM133 312h3v1h-3zM137 312h1v1h-1zM149 312h1v1h-1zM168 312h1v1h-1zM126 312h1v3h-1zM136 313h1v2h-1zM142 312h1v3h-1zM150 313h1v2h-1zM161 312h1v3h-1zM169 313h1v2h-1zM135 315h1v1h-1zM134 316h1v1h-1zM133 317h2v1h-2zM132 318h2v1h-2zM131 319h2v1h-2zM141 315h2v6h-2zM150 315h2v6h-2zM160 315h2v6h-2zM169 315h2v6h-2zM150 321h1v2h-1zM169 321h1v2h-1zM142 321h1v3h-1zM149 323h1v1h-1zM161 321h1v3h-1zM168 323h1v1h-1zM143 324h2v1h-2zM148 324h2v1h-2zM155 324h2v1h-2zM162 324h2v1h-2zM167 324h2v1h-2zM131 320h1v6h-1zM145 325h4v1h-4zM155 325h1v1h-1zM164 325h4v1h-4zM131 374h4v1h-4zM145 374h4v1h-4zM164 374h4v1h-4zM129 375h2v1h-2zM135 375h1v1h-1zM143 375h2v1h-2zM148 375h2v1h-2zM162 375h2v1h-2zM167 375h2v1h-2zM128 376h2v1h-2zM135 376h2v1h-2zM149 376h1v1h-1zM168 376h1v1h-1zM134 377h1v1h-1zM136 377h1v1h-1zM127 377h2v2h-2zM135 378h1v1h-1zM142 376h1v3h-1zM150 377h1v2h-1zM161 376h1v3h-1zM169 377h1v2h-1zM126 379h2v2h-2zM129 380h6v1h-6zM134 381h2v1h-2zM126 381h3v2h-3zM135 382h2v2h-2zM141 379h2v6h-2zM150 379h2v6h-2zM160 379h2v6h-2zM169 379h2v6h-2zM136 384h2v2h-2zM126 383h2v4h-2zM150 385h1v2h-1zM169 385h1v2h-1zM127 387h2v1h-2zM135 386h2v2h-2zM142 385h1v3h-1zM149 387h1v1h-1zM161 385h1v3h-1zM168 387h1v1h-1zM128 388h3v1h-3zM134 388h2v1h-2zM143 388h2v1h-2zM148 388h2v1h-2zM155 388h2v1h-2zM162 388h2v1h-2zM167 388h2v1h-2zM130 389h4v1h-4zM145 389h4v1h-4zM155 389h1v1h-1zM164 389h4v1h-4zM103 404h1v1h-1zM102 405h3v1h-3zM102 406h2v1h-2zM102 407h1v2h-1zM103 409h1v1h-1zM104 410h2v1h-2zM112 409h1v2h-1zM102 411h11v1h-11zM102 412h1v3h-1zM112 412h1v3h-1zM112 418h1v2h-1zM102 420h11v2h-11zM110 422h1v1h-1zM102 422h1v2h-1zM111 423h1v2h-1zM112 425h1v2h-1zM111 427h1v1h-1zM102 428h10v1h-10zM102 429h9v1h-9zM102 430h1v2h-1zM106 435h4v1h-4zM104 436h7v1h-7zM103 437h1v1h-1zM110 437h2v1h-2zM128 437h8v1h-8zM145 437h4v1h-4zM164 437h4v1h-4zM102 438h2v1h-2zM111 438h1v1h-1zM128 438h6v1h-6zM143 438h2v1h-2zM148 438h2v1h-2zM162 438h2v1h-2zM167 438h2v1h-2zM149 439h1v1h-1zM168 439h1v1h-1zM112 439h1v2h-1zM102 439h1v3h-1zM142 439h1v3h-1zM150 440h1v2h-1zM161 439h1v3h-1zM169 440h1v2h-1zM103 442h1v1h-1zM111 441h1v2h-1zM127 439h1v4h-1zM130 442h4v1h-4zM103 443h3v1h-3zM110 443h1v1h-1zM126 443h1v1h-1zM128 443h2v1h-2zM134 443h2v1h-2zM104 444h7v1h-7zM126 444h2v1h-2zM135 444h2v2h-2zM141 442h2v6h-2zM150 442h2v6h-2zM160 442h2v6h-2zM169 442h2v6h-2zM126 448h3v1h-3zM136 446h2v3h-2zM126 449h2v1h-2zM150 448h1v2h-1zM169 448h1v2h-1zM97 449h1v2h-1zM112 449h1v2h-1zM126 450h1v1h-1zM135 449h2v2h-2zM142 448h1v3h-1zM149 450h1v1h-1zM161 448h1v3h-1zM168 450h1v1h-1zM127 451h3v1h-3zM134 451h2v1h-2zM143 451h2v1h-2zM148 451h2v1h-2zM155 451h2v1h-2zM162 451h2v1h-2zM167 451h2v1h-2zM97 451h16v2h-16zM130 452h4v1h-4zM145 452h4v1h-4zM155 452h1v1h-1zM164 452h4v1h-4zM97 453h1v2h-1zM112 453h1v2h-1zM97 459h1v2h-1zM104 453h1v8h-1zM112 459h1v2h-1zM97 461h16v2h-16zM97 463h1v2h-1zM112 463h1v2h-1zM103 478h1v1h-1zM102 479h3v1h-3zM102 480h2v1h-2zM102 481h1v2h-1zM103 483h1v1h-1zM104 484h2v1h-2zM112 483h1v2h-1zM102 485h11v2h-11zM102 487h1v2h-1zM112 487h1v2h-1zM105 491h2v1h-2zM110 491h1v1h-1zM103 492h4v1h-4zM111 492h1v2h-1zM112 494h1v3h-1zM102 493h1v5h-1zM103 498h1v1h-1zM106 493h1v6h-1zM111 497h1v2h-1zM103 499h4v1h-4zM110 499h1v1h-1zM104 500h7v1h-7zM106 501h4v1h-4zM133 501h1v1h-1zM145 501h4v1h-4zM164 501h4v1h-4zM143 502h2v1h-2zM148 502h2v1h-2zM162 502h2v1h-2zM167 502h2v1h-2zM132 502h2v2h-2zM149 503h1v1h-1zM168 503h1v1h-1zM106 504h4v1h-4zM131 504h1v1h-1zM104 505h7v1h-7zM142 503h1v3h-1zM150 504h1v2h-1zM161 503h1v3h-1zM169 504h1v2h-1zM110 506h2v1h-2zM130 505h1v2h-1zM103 506h1v2h-1zM111 507h1v1h-1zM111 508h2v1h-2zM129 507h1v2h-1zM128 509h1v1h-1zM112 509h1v2h-1zM102 508h1v4h-1zM127 510h1v2h-1zM133 504h1v8h-1zM141 506h2v6h-2zM150 506h2v6h-2zM160 506h2v6h-2zM169 506h2v6h-2zM103 512h1v1h-1zM111 511h1v2h-1zM117 511h1v2h-1zM126 512h12v1h-12zM150 512h1v2h-1zM169 512h1v2h-1zM102 513h16v2h-16zM142 512h1v3h-1zM149 514h1v1h-1zM161 512h1v3h-1zM168 514h1v1h-1zM133 513h1v3h-1zM143 515h2v1h-2zM148 515h2v1h-2zM155 515h2v1h-2zM162 515h2v1h-2zM167 515h2v1h-2zM131 516h5v1h-5zM145 516h4v1h-4zM155 516h1v1h-1zM164 516h4v1h-4zM102 515h1v3h-1zM117 515h1v3h-1zM102 531h4v1h-4zM108 531h4v1h-4zM103 532h1v1h-1zM111 532h1v1h-1zM107 532h2v3h-2zM107 535h1v1h-1zM106 536h2v1h-2zM112 533h1v5h-1zM102 533h1v6h-1zM106 537h1v2h-1zM103 539h1v1h-1zM105 539h2v1h-2zM111 538h1v2h-1zM103 540h3v1h-3zM109 540h4v1h-4zM105 543h2v1h-2zM110 543h1v1h-1zM103 544h4v1h-4zM111 544h1v2h-1zM102 545h1v4h-1zM112 546h1v3h-1zM102 549h2v1h-2zM111 549h1v1h-1zM103 550h1v1h-1zM106 545h1v6h-1zM110 550h2v1h-2zM103 551h4v1h-4zM110 551h1v1h-1zM104 552h7v1h-7zM104 557h7v1h-7zM103 558h3v1h-3zM110 558h1v1h-1zM103 559h1v1h-1zM110 559h2v1h-2zM102 560h2v1h-2zM111 560h1v1h-1zM112 561h1v2h-1zM102 561h1v3h-1zM111 563h2v1h-2zM103 564h1v1h-1zM111 564h1v1h-1zM130 564h5v1h-5zM145 564h4v1h-4zM164 564h4v1h-4zM103 565h3v1h-3zM110 565h2v1h-2zM127 565h3v1h-3zM134 565h2v1h-2zM143 565h2v1h-2zM148 565h2v1h-2zM162 565h2v1h-2zM167 565h2v1h-2zM104 566h7v1h-7zM126 566h1v1h-1zM149 566h1v1h-1zM168 566h1v1h-1zM106 567h4v1h-4zM126 567h2v1h-2zM126 568h3v1h-3zM135 566h2v3h-2zM142 566h1v3h-1zM150 567h1v2h-1zM161 566h1v3h-1zM169 567h1v2h-1zM134 569h2v1h-2zM131 570h5v1h-5zM134 571h1v1h-1zM112 571h1v2h-1zM135 572h1v1h-1zM104 573h9v1h-9zM135 573h2v1h-2zM103 574h10v1h-10zM141 569h2v6h-2zM150 569h2v6h-2zM160 569h2v6h-2zM169 569h2v6h-2zM102 575h2v1h-2zM126 575h3v1h-3zM112 575h1v2h-1zM126 576h2v1h-2zM136 574h2v3h-2zM150 575h1v2h-1zM169 575h1v2h-1zM126 577h1v1h-1zM135 577h2v1h-2zM142 575h1v3h-1zM149 577h1v1h-1zM161 575h1v3h-1zM168 577h1v1h-1zM102 576h1v3h-1zM127 578h3v1h-3zM134 578h3v1h-3zM143 578h2v1h-2zM148 578h2v1h-2zM155 578h2v1h-2zM162 578h2v1h-2zM167 578h2v1h-2zM130 579h5v1h-5zM145 579h4v1h-4zM155 579h1v1h-1zM164 579h4v1h-4zM103 579h1v2h-1zM112 579h1v2h-1zM97 581h16v1h-16zM97 582h1v2h-1zM112 582h1v2h-1zM104 587h2v1h-2zM103 588h2v1h-2zM106 588h1v1h-1zM110 587h1v2h-1zM103 589h1v1h-1zM105 589h1v1h-1zM111 589h1v2h-1zM102 590h1v4h-1zM112 591h1v3h-1zM102 594h2v1h-2zM111 594h1v1h-1zM103 595h1v1h-1zM110 595h2v1h-2zM103 596h3v1h-3zM110 596h1v1h-1zM104 597h7v1h-7zM97 602h5v1h-5zM108 602h5v1h-5zM97 603h3v1h-3zM111 603h2v1h-2zM101 607h7v1h-7zM97 604h1v7h-1zM104 608h1v3h-1zM112 604h1v7h-1zM97 611h16v2h-16zM97 613h1v2h-1zM112 613h1v2h-1zM130 628h5v1h-5zM145 628h4v1h-4zM164 628h4v1h-4zM127 629h3v1h-3zM134 629h3v1h-3zM143 629h2v1h-2zM148 629h2v1h-2zM162 629h2v1h-2zM167 629h2v1h-2zM126 630h1v1h-1zM135 630h2v1h-2zM149 630h1v1h-1zM168 630h1v1h-1zM126 631h2v1h-2zM126 632h3v1h-3zM136 631h2v2h-2zM142 630h1v3h-1zM150 631h1v2h-1zM161 630h1v3h-1zM169 631h1v2h-1zM135 633h2v2h-2zM132 635h4v1h-4zM130 636h4v1h-4zM128 637h4v1h-4zM141 633h2v6h-2zM150 633h2v6h-2zM160 633h2v6h-2zM169 633h2v6h-2zM127 638h1v2h-1zM126 640h1v1h-1zM150 639h1v2h-1zM169 639h1v2h-1zM126 641h5v1h-5zM137 639h1v3h-1zM142 639h1v3h-1zM149 641h1v1h-1zM161 639h1v3h-1zM168 641h1v1h-1zM130 642h7v1h-7zM143 642h2v1h-2zM148 642h2v1h-2zM155 642h2v1h-2zM162 642h2v1h-2zM167 642h2v1h-2zM126 642h1v2h-1zM132 643h4v1h-4zM145 643h4v1h-4zM155 643h1v1h-1zM164 643h4v1h-4zM134 691h1v1h-1zM145 691h4v1h-4zM164 691h4v1h-4zM132 692h3v1h-3zM143 692h2v1h-2zM148 692h2v1h-2zM162 692h2v1h-2zM167 692h2v1h-2zM131 693h1v1h-1zM149 693h1v1h-1zM168 693h1v1h-1zM130 694h1v1h-1zM142 693h1v3h-1zM150 694h1v2h-1zM161 693h1v3h-1zM169 694h1v2h-1zM141 696h2v6h-2zM150 696h2v6h-2zM160 696h2v6h-2zM169 696h2v6h-2zM150 702h1v2h-1zM169 702h1v2h-1zM142 702h1v3h-1zM149 704h1v1h-1zM161 702h1v3h-1zM168 704h1v1h-1zM133 693h2v13h-2zM143 705h2v1h-2zM148 705h2v1h-2zM155 705h2v1h-2zM162 705h2v1h-2zM167 705h2v1h-2zM130 706h8v1h-8zM145 706h4v1h-4zM155 706h1v1h-1zM164 706h4v1h-4zM144 755h4v1h-4zM164 755h4v1h-4zM142 756h3v1h-3zM148 756h1v1h-1zM162 756h2v1h-2zM167 756h2v1h-2zM148 757h2v1h-2zM168 757h1v1h-1zM141 757h2v3h-2zM149 758h2v2h-2zM161 757h1v3h-1zM169 758h1v2h-1zM140 760h2v6h-2zM150 760h2v6h-2zM160 760h2v6h-2zM169 760h2v6h-2zM149 766h2v2h-2zM169 766h1v2h-1zM141 766h2v3h-2zM148 768h2v1h-2zM161 766h1v3h-1zM168 768h1v1h-1zM142 769h3v1h-3zM148 769h1v1h-1zM155 769h2v1h-2zM162 769h2v1h-2zM167 769h2v1h-2zM144 770h4v1h-4zM155 770h1v1h-1zM164 770h4v1h-4zM354 784h8v1h-8zM520 784h9v1h-9zM693 784h1v1h-1zM854 784h9v1h-9zM1022 784h8v1h-8zM190 784h2v2h-2zM353 785h1v1h-1zM361 785h2v1h-2zM520 785h1v1h-1zM527 785h2v1h-2zM692 785h2v1h-2zM1021 785h2v1h-2zM1029 785h1v1h-1zM187 786h5v1h-5zM352 786h2v1h-2zM854 785h1v2h-1zM1021 786h1v1h-1zM1028 786h2v1h-2zM352 787h1v1h-1zM354 787h1v1h-1zM519 786h2v2h-2zM691 786h1v2h-1zM1029 787h1v1h-1zM353 788h1v1h-1zM362 786h2v3h-2zM520 788h1v1h-1zM528 786h1v3h-1zM690 788h1v1h-1zM853 787h1v2h-1zM856 788h5v1h-5zM1020 787h2v2h-2zM361 789h2v1h-2zM527 789h2v1h-2zM689 789h1v1h-1zM853 789h3v1h-3zM860 789h2v1h-2zM1024 789h3v1h-3zM358 790h4v1h-4zM523 790h5v1h-5zM688 790h1v1h-1zM853 790h1v1h-1zM1019 789h2v2h-2zM1022 790h2v1h-2zM1027 790h2v1h-2zM356 791h4v1h-4zM527 791h2v1h-2zM862 790h1v2h-1zM1019 791h3v1h-3zM354 792h4v1h-4zM528 792h1v1h-1zM687 791h1v2h-1zM1029 791h1v2h-1zM686 793h1v1h-1zM693 786h1v8h-1zM353 793h1v2h-1zM520 794h1v1h-1zM685 794h13v1h-13zM854 794h1v1h-1zM862 792h2v3h-2zM1029 793h2v2h-2zM352 795h1v1h-1zM519 795h2v1h-2zM528 793h2v3h-2zM853 795h2v1h-2zM1019 792h2v4h-2zM352 796h5v1h-5zM363 795h1v2h-1zM519 796h1v1h-1zM528 796h1v1h-1zM853 796h1v1h-1zM862 795h1v2h-1zM1020 796h2v1h-2zM1029 795h1v2h-1zM190 787h2v11h-2zM356 797h7v1h-7zM520 797h2v1h-2zM527 797h2v1h-2zM693 795h1v3h-1zM854 797h2v1h-2zM860 797h2v1h-2zM1021 797h3v1h-3zM1027 797h2v1h-2zM187 798h8v1h-8zM352 797h1v2h-1zM358 798h4v1h-4zM522 798h5v1h-5zM690 798h7v1h-7zM856 798h5v1h-5zM1023 798h4v1h-4zM826 809h1v1h-1zM863 809h2v1h-2zM825 810h1v1h-1zM824 811h1v1h-1zM865 810h1v2h-1zM447 812h9v1h-9zM462 812h7v1h-7zM476 812h8v1h-8zM492 812h1v1h-1zM513 812h6v1h-6zM631 812h10v1h-10zM727 812h4v1h-4zM747 812h6v1h-6zM757 812h6v1h-6zM823 812h2v1h-2zM830 812h6v1h-6zM841 812h5v1h-5zM848 812h13v1h-13zM866 812h1v1h-1zM455 813h1v1h-1zM461 813h2v1h-2zM468 813h2v1h-2zM483 813h2v1h-2zM491 813h2v1h-2zM640 813h2v1h-2zM823 813h1v1h-1zM848 813h2v1h-2zM446 813h1v2h-1zM475 813h1v2h-1zM489 814h2v1h-2zM641 814h2v1h-2zM859 813h2v2h-2zM866 813h2v2h-2zM446 815h2v1h-2zM461 814h1v2h-1zM475 815h2v1h-2zM446 816h1v1h-1zM455 814h2v3h-2zM469 814h2v3h-2zM475 816h1v1h-1zM484 814h2v3h-2zM525 816h5v1h-5zM537 816h4v1h-4zM544 816h3v1h-3zM554 816h4v1h-4zM562 816h4v1h-4zM574 816h4v1h-4zM586 816h4v1h-4zM594 816h3v1h-3zM599 816h6v1h-6zM607 816h6v1h-6zM616 816h2v1h-2zM642 815h1v2h-1zM650 816h5v1h-5zM662 816h6v1h-6zM670 816h5v1h-5zM691 816h4v1h-4zM703 816h4v1h-4zM710 816h3v1h-3zM725 816h3v1h-3zM729 813h2v4h-2zM770 816h4v1h-4zM780 816h4v1h-4zM788 816h4v1h-4zM797 816h4v1h-4zM803 816h3v1h-3zM822 814h1v3h-1zM848 814h1v3h-1zM860 815h1v2h-1zM867 815h2v2h-2zM454 817h2v1h-2zM483 817h2v1h-2zM524 817h1v1h-1zM539 817h2v1h-2zM542 817h2v1h-2zM547 817h1v1h-1zM572 817h2v1h-2zM578 817h1v1h-1zM589 817h1v1h-1zM592 817h2v1h-2zM596 817h2v1h-2zM601 817h1v1h-1zM615 817h1v1h-1zM618 817h1v1h-1zM649 817h1v1h-1zM664 817h1v1h-1zM689 817h2v1h-2zM695 817h1v1h-1zM705 817h2v1h-2zM708 817h2v1h-2zM713 817h2v1h-2zM723 817h2v1h-2zM728 817h3v1h-3zM749 813h2v5h-2zM759 813h2v5h-2zM768 817h2v1h-2zM773 817h2v1h-2zM799 817h2v1h-2zM802 817h1v1h-1zM452 818h3v1h-3zM481 818h3v1h-3zM523 818h2v1h-2zM530 817h1v2h-1zM539 818h3v1h-3zM571 818h2v1h-2zM579 818h1v1h-1zM589 818h3v1h-3zM595 818h3v1h-3zM609 817h1v2h-1zM616 818h2v1h-2zM648 818h2v1h-2zM655 817h1v2h-1zM672 817h1v2h-1zM689 818h1v1h-1zM696 818h1v1h-1zM705 818h3v1h-3zM722 818h2v1h-2zM749 818h12v1h-12zM766 818h2v1h-2zM799 818h3v1h-3zM805 817h2v2h-2zM450 819h3v1h-3zM479 819h3v1h-3zM530 819h2v1h-2zM579 819h2v1h-2zM602 818h1v2h-1zM655 819h2v1h-2zM665 818h1v2h-1zM696 819h2v1h-2zM775 818h1v2h-1zM448 820h3v1h-3zM477 820h3v1h-3zM525 820h7v1h-7zM573 820h8v1h-8zM608 819h1v2h-1zM650 820h7v1h-7zM671 819h1v2h-1zM691 820h7v1h-7zM447 821h1v1h-1zM460 816h2v6h-2zM470 817h1v5h-1zM476 821h1v1h-1zM523 821h2v1h-2zM571 821h3v1h-3zM603 820h1v2h-1zM642 817h2v5h-2zM648 821h2v1h-2zM666 820h1v2h-1zM689 821h2v1h-2zM511 822h1v1h-1zM603 822h2v1h-2zM607 821h1v2h-1zM666 822h2v1h-2zM670 821h1v2h-1zM775 820h2v3h-2zM843 813h1v10h-1zM868 817h2v6h-2zM446 822h1v2h-1zM469 822h2v2h-2zM475 822h1v2h-1zM510 823h2v1h-2zM515 813h2v11h-2zM604 823h1v1h-1zM606 823h1v1h-1zM642 822h1v2h-1zM667 823h1v1h-1zM669 823h1v1h-1zM721 819h2v5h-2zM765 819h2v5h-2zM821 817h2v7h-2zM832 813h2v11h-2zM446 824h5v1h-5zM456 823h1v2h-1zM461 822h1v3h-1zM468 824h2v1h-2zM475 824h4v1h-4zM485 823h1v2h-1zM510 824h1v1h-1zM522 822h2v3h-2zM530 821h2v4h-2zM556 817h2v8h-2zM564 817h2v8h-2zM571 822h1v3h-1zM579 821h2v4h-2zM604 824h3v1h-3zM641 824h2v1h-2zM647 822h2v3h-2zM655 821h2v4h-2zM667 824h3v1h-3zM688 822h2v3h-2zM696 821h2v4h-2zM722 824h2v1h-2zM729 818h2v7h-2zM766 824h2v1h-2zM775 823h1v2h-1zM782 817h2v8h-2zM790 817h2v8h-2zM833 824h2v1h-2zM842 823h1v2h-1zM450 825h6v1h-6zM462 825h2v1h-2zM467 825h2v1h-2zM478 825h7v1h-7zM492 814h1v12h-1zM511 825h1v1h-1zM514 824h2v2h-2zM523 825h2v1h-2zM529 825h1v1h-1zM531 825h2v1h-2zM539 819h2v7h-2zM547 818h2v8h-2zM557 825h2v1h-2zM563 825h3v1h-3zM571 825h3v1h-3zM577 825h2v1h-2zM580 825h1v1h-1zM589 819h1v7h-1zM615 825h4v1h-4zM633 813h2v13h-2zM640 825h2v1h-2zM648 825h2v1h-2zM654 825h1v1h-1zM656 825h2v1h-2zM689 825h2v1h-2zM695 825h1v1h-1zM697 825h2v1h-2zM705 819h2v7h-2zM714 818h1v8h-1zM723 825h2v1h-2zM728 825h3v1h-3zM749 819h2v7h-2zM759 819h2v7h-2zM768 825h2v1h-2zM773 825h2v1h-2zM783 825h2v1h-2zM789 825h3v1h-3zM799 819h2v7h-2zM835 825h2v1h-2zM840 825h2v1h-2zM853 813h2v13h-2zM867 823h2v3h-2zM446 825h1v2h-1zM452 826h4v1h-4zM464 826h4v1h-4zM475 825h1v2h-1zM480 826h4v1h-4zM489 826h7v1h-7zM512 826h3v1h-3zM525 826h4v1h-4zM532 826h2v1h-2zM537 826h6v1h-6zM545 826h6v1h-6zM559 826h4v1h-4zM564 826h4v1h-4zM573 826h4v1h-4zM581 826h2v1h-2zM586 826h7v1h-7zM616 826h1v1h-1zM631 826h9v1h-9zM650 826h4v1h-4zM657 826h2v1h-2zM691 826h4v1h-4zM698 826h2v1h-2zM703 826h6v1h-6zM711 826h7v1h-7zM725 826h3v1h-3zM729 826h4v1h-4zM747 826h6v1h-6zM757 826h6v1h-6zM770 826h4v1h-4zM785 826h4v1h-4zM790 826h4v1h-4zM797 826h6v1h-6zM822 824h1v3h-1zM837 826h3v1h-3zM851 826h6v1h-6zM866 826h2v1h-2zM605 825h1v3h-1zM618 826h1v2h-1zM668 825h1v3h-1zM823 827h1v1h-1zM866 827h1v1h-1zM616 828h2v1h-2zM824 828h1v1h-1zM600 829h1v1h-1zM604 828h1v2h-1zM615 829h1v1h-1zM663 829h1v1h-1zM667 828h1v2h-1zM865 828h1v2h-1zM599 830h1v1h-1zM601 830h3v1h-3zM662 830h1v1h-1zM664 830h3v1h-3zM825 829h1v2h-1zM864 830h1v1h-1zM600 831h2v1h-2zM663 831h2v1h-2zM826 831h1v1h-1zM863 831h1v1h-1z" fill="#000"/><clipPath id="c"><rect x="192" y="256" width="931" height="507"/></clipPath><polyline clip-path="url(#c)" points="191.6,743.4 198.0,755.7 202.3,734.9 206.5,746.6 209.7,734.9 212.9,750.4 217.7,740.2 219.9,728.0 222.5,744.0 225.2,727.4 227.8,731.7 230.0,696.0 232.1,714.6 235.8,760.5 240.6,725.3 243.3,697.1 246.0,712.5 249.2,756.2 253.4,706.1 256.1,732.8 259.3,720.0 262.3,700.3 264.6,712.5 266.8,712.0 269.4,728.5 271.6,721.0 274.2,731.7 278.0,760.5 281.2,723.2 284.9,718.9 286.5,721.0 288.6,742.4 290.7,736.0 292.1,747.7 294.5,726.4 297.1,744.5 299.3,736.0 299.8,711.4 301.4,640.0 301.9,628.6 302.5,645.0 303.0,710.4 304.9,724.2 305.7,746.6 307.8,740.2 311.5,761.6 314.2,753.0 316.3,729.6 319.5,756.2 322.1,756.2 326.4,716.8 329.6,736.0 332.3,756.2 336.0,749.8 339.2,725.3 341.9,731.7 342.4,754.1 345.6,702.9 347.7,722.1 350.4,750.4 355.2,741.8 358.4,752.5 361.0,741.3 363.7,750.4 366.9,752.0 371.2,736.0 372.2,711.4 374.4,710.9 374.9,736.0 377.0,734.9 378.6,691.7 380.8,700.8 381.3,721.0 385.0,718.9 386.6,737.0 389.8,714.6 391.4,701.9 392.8,680.0 393.9,659.3 395.5,670.0 396.8,698.7 398.9,750.9 401.6,738.1 403.7,704.0 405.3,707.2 407.4,732.8 411.2,721.0 413.8,747.7 417.0,740.2 420.2,706.1 422.3,721.0 424.5,757.3 426.6,739.2 429.3,733.8 431.4,734.9 432.5,710.4 434.6,708.2 436.2,682.7 438.3,693.3 439.4,720.0 442.6,696.5 443.7,720.0 446.3,744.5 447.9,736.0 449.0,718.9 451.6,723.2 454.3,727.4 455.9,749.8 459.1,738.1 463.3,756.2 467.1,749.8 470.8,740.2 473.5,759.4 475.1,762.6 478.8,762.6 482.5,749.8 486.2,761.6 488.9,750.9 492.1,748.8 493.7,725.3 496.4,741.3 498.0,761.6 501.2,726.4 504.9,739.2 507.1,711.0 511.4,760.7 514.5,737.0 517.8,709.4 519.5,718.0 521.0,695.0 523.0,667.0 525.7,653.1 528.0,662.0 530.0,668.0 531.4,699.4 534.0,680.0 537.8,655.3 540.0,684.0 542.1,700.1 545.5,674.0 546.3,641.0 549.2,579.6 550.6,555.3 554.9,539.0 556.3,585.3 557.7,641.0 558.4,661.7 560.6,632.3 561.3,544.0 562.7,529.7 565.6,544.0 567.0,565.3 569.1,583.8 571.3,608.0 571.7,641.0 572.7,678.0 573.4,706.6 577.0,731.5 580.5,709.4 582.7,683.8 583.4,641.0 583.4,625.2 584.8,583.1 586.2,568.2 587.7,531.8 589.1,514.0 590.1,510.0 592.2,489.6 592.7,464.0 594.6,455.3 596.8,440.7 597.5,427.6 598.7,379.4 599.2,340.0 599.8,312.0 601.0,280.5 602.4,293.0 602.6,349.0 602.6,410.0 604.8,445.0 605.5,453.0 607.3,449.5 607.3,424.7 609.1,367.7 610.5,336.0 611.7,345.0 611.7,398.4 613.0,455.0 614.0,464.0 616.2,470.0 616.2,514.0 618.3,514.0 618.3,556.8 620.4,586.7 622.6,552.5 624.7,581.0 624.7,613.8 626.9,625.2 628.3,635.2 628.3,655.0 631.1,667.4 633.3,628.0 635.4,612.4 637.6,641.0 638.3,676.6 639.0,700.9 641.1,712.3 644.0,712.3 646.1,735.1 649.0,715.1 654.0,707.3 656.1,723.7 657.5,745.0 660.4,733.0 663.2,756.5 666.0,736.5 669.6,762.0 674.6,756.5 678.2,720.8 681.7,749.3 683.9,749.8 686.5,723.5 689.8,689.4 692.4,706.5 694.4,735.4 696.4,705.2 699.6,687.4 701.6,702.5 703.6,735.4 706.2,718.3 708.8,738.0 712.8,714.3 715.4,736.7 718.0,731.4 720.6,753.7 724.6,738.0 727.9,720.9 731.2,732.7 734.4,706.5 739.0,718.3 741.0,705.2 743.6,693.3 744.9,661.8 747.6,669.7 748.2,709.1 750.2,760.3 753.5,741.9 756.1,741.9 758.7,697.3 762.0,736.7 765.3,723.5 766.6,682.8 768.6,658.5 770.6,681.5 771.9,710.4 775.8,730.1 778.4,701.2 781.7,702.5 786.3,720.9 787.6,736.7 790.2,761.6 794.2,737.3 798.1,761.6 802.1,760.3 807.3,711.7 808.6,703.8 811.3,731.4 813.9,752.4 817.2,736.7 820.4,753.7 824.4,741.3 827.0,747.2 830.3,761.6 834.2,736.7 837.5,748.5 840.1,752.4 843.4,730.1 846.7,744.6 850.0,761.6 853.3,747.8 857.2,745.9 859.2,727.5 863.1,714.3 866.4,728.8 869.0,751.1 871.7,739.3 874.3,761.6 880.9,734.7 884.1,761.6 889.4,739.3 892.7,732.7 896.0,711.7 899.2,724.9 901.9,760.3 905.1,728.8 909.7,761.6 915.0,741.9 917.6,718.9 920.9,740.6 924.8,726.2 928.1,749.8 930.8,717.0 934.0,713.0 935.3,698.6 937.3,673.6 939.3,684.1 939.9,702.5 941.9,738.0 945.8,705.2 947.8,722.2 949.1,744.6 951.1,741.9 953.1,755.1 955.7,761.6 959.6,761.6 962.3,734.0 964.9,698.6 966.9,720.9 968.8,744.6 972.1,757.7 975.4,734.0 979.3,744.6 982.6,760.3 985.9,749.8 989.2,736.7 991.8,751.1 995.1,740.6 997.7,757.7 1002.3,751.1 1006.3,761.6 1011.5,747.2 1016.1,736.7 1019.7,751.1 1023.0,719.6 1027.6,718.3 1031.5,723.5 1033.5,744.6 1035.5,757.7 1038.7,751.1 1041.4,757.7 1044.6,736.7 1047.9,761.6 1052.5,745.9 1055.2,734.0 1058.4,711.7 1061.1,727.5 1063.0,705.2 1064.3,681.5 1065.7,690.7 1068.9,690.7 1070.3,717.0 1072.9,744.6 1075.5,711.7 1076.8,694.0 1078.8,724.9 1080.8,752.4 1082.7,730.1 1086.0,728.8 1088.0,706.5 1090.0,731.4 1091.9,757.7 1094.6,727.5 1097.2,739.3 1099.8,707.8 1101.1,698.6 1103.7,719.6 1106.4,702.5 1108.7,692.0 1111.0,727.5 1112.3,748.5 1115.6,745.9 1117.5,713.0 1120.2,739.3 1122.1,713.0 1124.1,711.7" stroke="#f00" stroke-width="3.7" fill="none" stroke-linejoin="round" stroke-linecap="round"/></svg></body></html>
